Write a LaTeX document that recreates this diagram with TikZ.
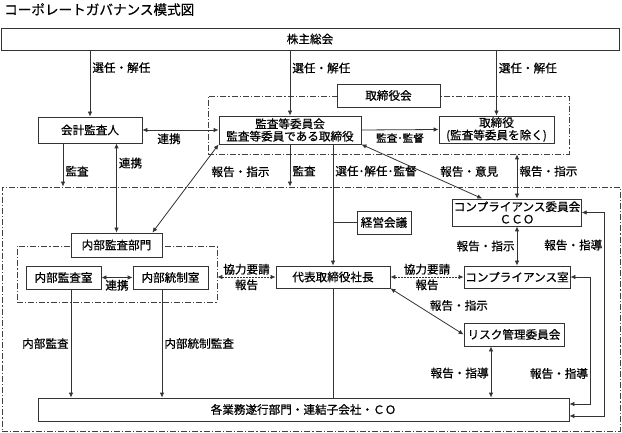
\documentclass[tikz,border=0pt]{standalone}
\usepackage{fontspec}
\setmainfont{Noto Sans CJK JP}[FakeBold=0.6]
\usetikzlibrary{arrows.meta,positioning,calc}

\begin{document}
\begin{tikzpicture}[
			x=1pt, y=-1pt,
			box/.style={rectangle, draw=black!80, fill=white, line width=0.8pt, inner sep=1pt,
				align=center, font=\fontsize{11.6}{12.4}\selectfont},
			grpframe/.style={rectangle, draw=black!75, line width=0.8pt,
				dash pattern=on 6pt off 2pt on 1.2pt off 2pt},
			lbl/.style={font=\fontsize{11.6}{12.4}\selectfont, inner sep=2pt},
			conn/.style={draw=black!80, line width=0.8pt},
			dotconn/.style={conn, dash pattern=on 1.5pt off 1.5pt},
			>={Latex[length=5pt,width=4.5pt]}
			]
			\useasboundingbox (0,0) rectangle (622,433);
			
			\node[anchor=west, inner sep=0, font=\fontsize{13.6}{14}\selectfont] (Title) at (4,9.5) {コーポレートガバナンス模式図};
			
			\node[box, minimum width=618pt, minimum height=22pt] (Kabu) at (310,39) {株主総会};
			
			\node[grpframe, minimum width=361pt, minimum height=58pt] (Torikai) at (388.5,125) {};
			\node[grpframe, minimum width=618pt, minimum height=244pt] (Shikko) at (311,309) {};
			\node[grpframe, minimum width=200pt, minimum height=56pt] (Naibu) at (117,274) {};
			
			\node[box, minimum width=103pt, minimum height=23pt] (TorikaiLbl) at (388.5,95.5) {取締役会};
			\node[box, minimum width=104pt, minimum height=26pt] (Kaikei) at (90,130) {会計監査人};
			\node[box, minimum width=142pt, minimum height=28pt] (Kansa) at (290,130) {監査等委員会\\監査等委員である取締役};
			\node[box, minimum width=115pt, minimum height=27pt] (Tori) at (496.5,129.5) {取締役\\(監査等委員を除く)};
			
			\node[box, minimum width=91pt, minimum height=24pt] (NaibuLbl) at (116.5,245) {内部監査部門};
			\node[box, minimum width=75pt, minimum height=23pt] (NKansa) at (63.5,277.5) {内部監査室};
			\node[box, minimum width=75pt, minimum height=23pt] (NTosei) at (170.5,277.5) {内部統制室};
			
			\node[box, minimum width=114pt, minimum height=22pt] (Shacho) at (333,277) {代表取締役社長};
			\node[box, minimum width=54pt, minimum height=23pt] (Keiei) at (384,222.5) {経営会議};
			\node[box, minimum width=128pt, minimum height=27pt] (CompIin) at (517,212.5) {コンプライアンス委員会\\ＣＣＯ};
			\node[box, minimum width=106pt, minimum height=22pt] (CompShitsu) at (517,277) {コンプライアンス室};
			\node[box, minimum width=100pt, minimum height=23pt] (Risk) at (514,334.5) {リスク管理委員会};
			\node[box, minimum width=531pt, minimum height=23pt] (Gyomu) at (303.5,409.5) {各業務遂行部門・連結子会社・ＣＯ};
			
			\draw[conn,->] (Kabu.south -| Kaikei.north) -- node[lbl, right, pos=0.26]{選任・解任} (Kaikei.north);
			\draw[conn,->] (Kabu.south -| Kansa.north) -- node[lbl, right, pos=0.27]{選任・解任} (Kansa.north);
			\draw[conn,->] (Kabu.south -| Tori.north) -- node[lbl, right, pos=0.27]{選任・解任} (Tori.north);
			
			\draw[conn,<->] (Kaikei.east) -- node[lbl, below=1pt, pos=0.35]{連携} (Kansa.west);
			\draw[conn,->] (Kansa.east) -- node[lbl, below=1pt, font=\fontsize{10.6}{11}\selectfont]{監査･監督} (Tori.west);
			
			\draw[conn,->] ([xshift=-27pt]Kaikei.south) -- node[lbl, right, pos=0.64]{監査} ([xshift=-27pt]Kaikei.south |- Shikko.north);
			\draw[conn,<->] (Kaikei.south -| NaibuLbl.north) -- node[lbl, right, pos=0.22]{連携} (NaibuLbl.north);
			\draw[conn,<->] (Kansa.south west) -- node[lbl, pos=0.31, right=11pt]{報告・指示} ([xshift=-10pt]NaibuLbl.north east);
			\draw[conn,->] (Kansa.south) -- node[lbl, right, pos=0.63]{監査} (Kansa.south |- Shikko.north);
			\draw[conn,->] (Kansa.south -| Shacho.north) -- node[lbl, right, pos=0.22]{選任･解任･監督} (Shacho.north);
			\draw[conn,<->] (Kansa.south east) -- node[lbl, pos=0.5, right=16pt]{報告・意見} ([xshift=30pt]CompIin.north west);
			\draw[conn,<->] (Torikai.south -| CompIin.north) -- node[lbl, right, pos=0.38]{報告・指示} (CompIin.north);
			
			\draw[conn] (Keiei.west) -- (Keiei.west -| Shacho.north);
			\draw[conn] (Shacho.south) -- (Shacho.south |- Gyomu.north);
			
			\draw[conn,<->] (CompIin.south) -- node[lbl, left]{報告・指示} (CompShitsu.north);
			\draw[dotconn,<->] (Shacho.east) -- node[lbl, above]{協力要請} node[lbl, below]{報告} (CompShitsu.west);
			\draw[dotconn,<->] (Shacho.west -| Naibu.east) -- node[lbl, above]{協力要請} node[lbl, below]{報告} (Shacho.west);
			
			\draw[conn,<->] (NKansa.east) -- node[lbl, below]{連携} (NTosei.west);
			\draw[conn,->] ([xshift=7.5pt]NKansa.south) -- node[lbl, left]{内部監査} ([xshift=7.5pt]NKansa.south |- Gyomu.north);
			\draw[conn,->] ([xshift=-8.5pt]NTosei.south) -- node[lbl, right]{内部統制監査} ([xshift=-8.5pt]NTosei.south |- Gyomu.north);
			
			\draw[conn,<->] (Shacho.south east) -- node[lbl, pos=0.37, right=10pt]{報告・指示} (Risk.west);
			\draw[conn,<->] ([xshift=-23pt]Risk.south) -- node[lbl, left, pos=0.52]{報告・指導} ([xshift=-23pt]Risk.south |- Gyomu.north);
			
			\draw[conn,<->] ([yshift=5.5pt]Gyomu.east) -| node[lbl, left, pos=0.62]{報告・指導} ([xshift=20pt]CompShitsu.east) -- (CompShitsu.east);
			\draw[conn,<->] ([yshift=-6.5pt]Gyomu.east) -| node[lbl, left, pos=0.92]{報告・指導} ([xshift=23pt]CompIin.east) -- (CompIin.east);
		\end{tikzpicture}
\end{document}
